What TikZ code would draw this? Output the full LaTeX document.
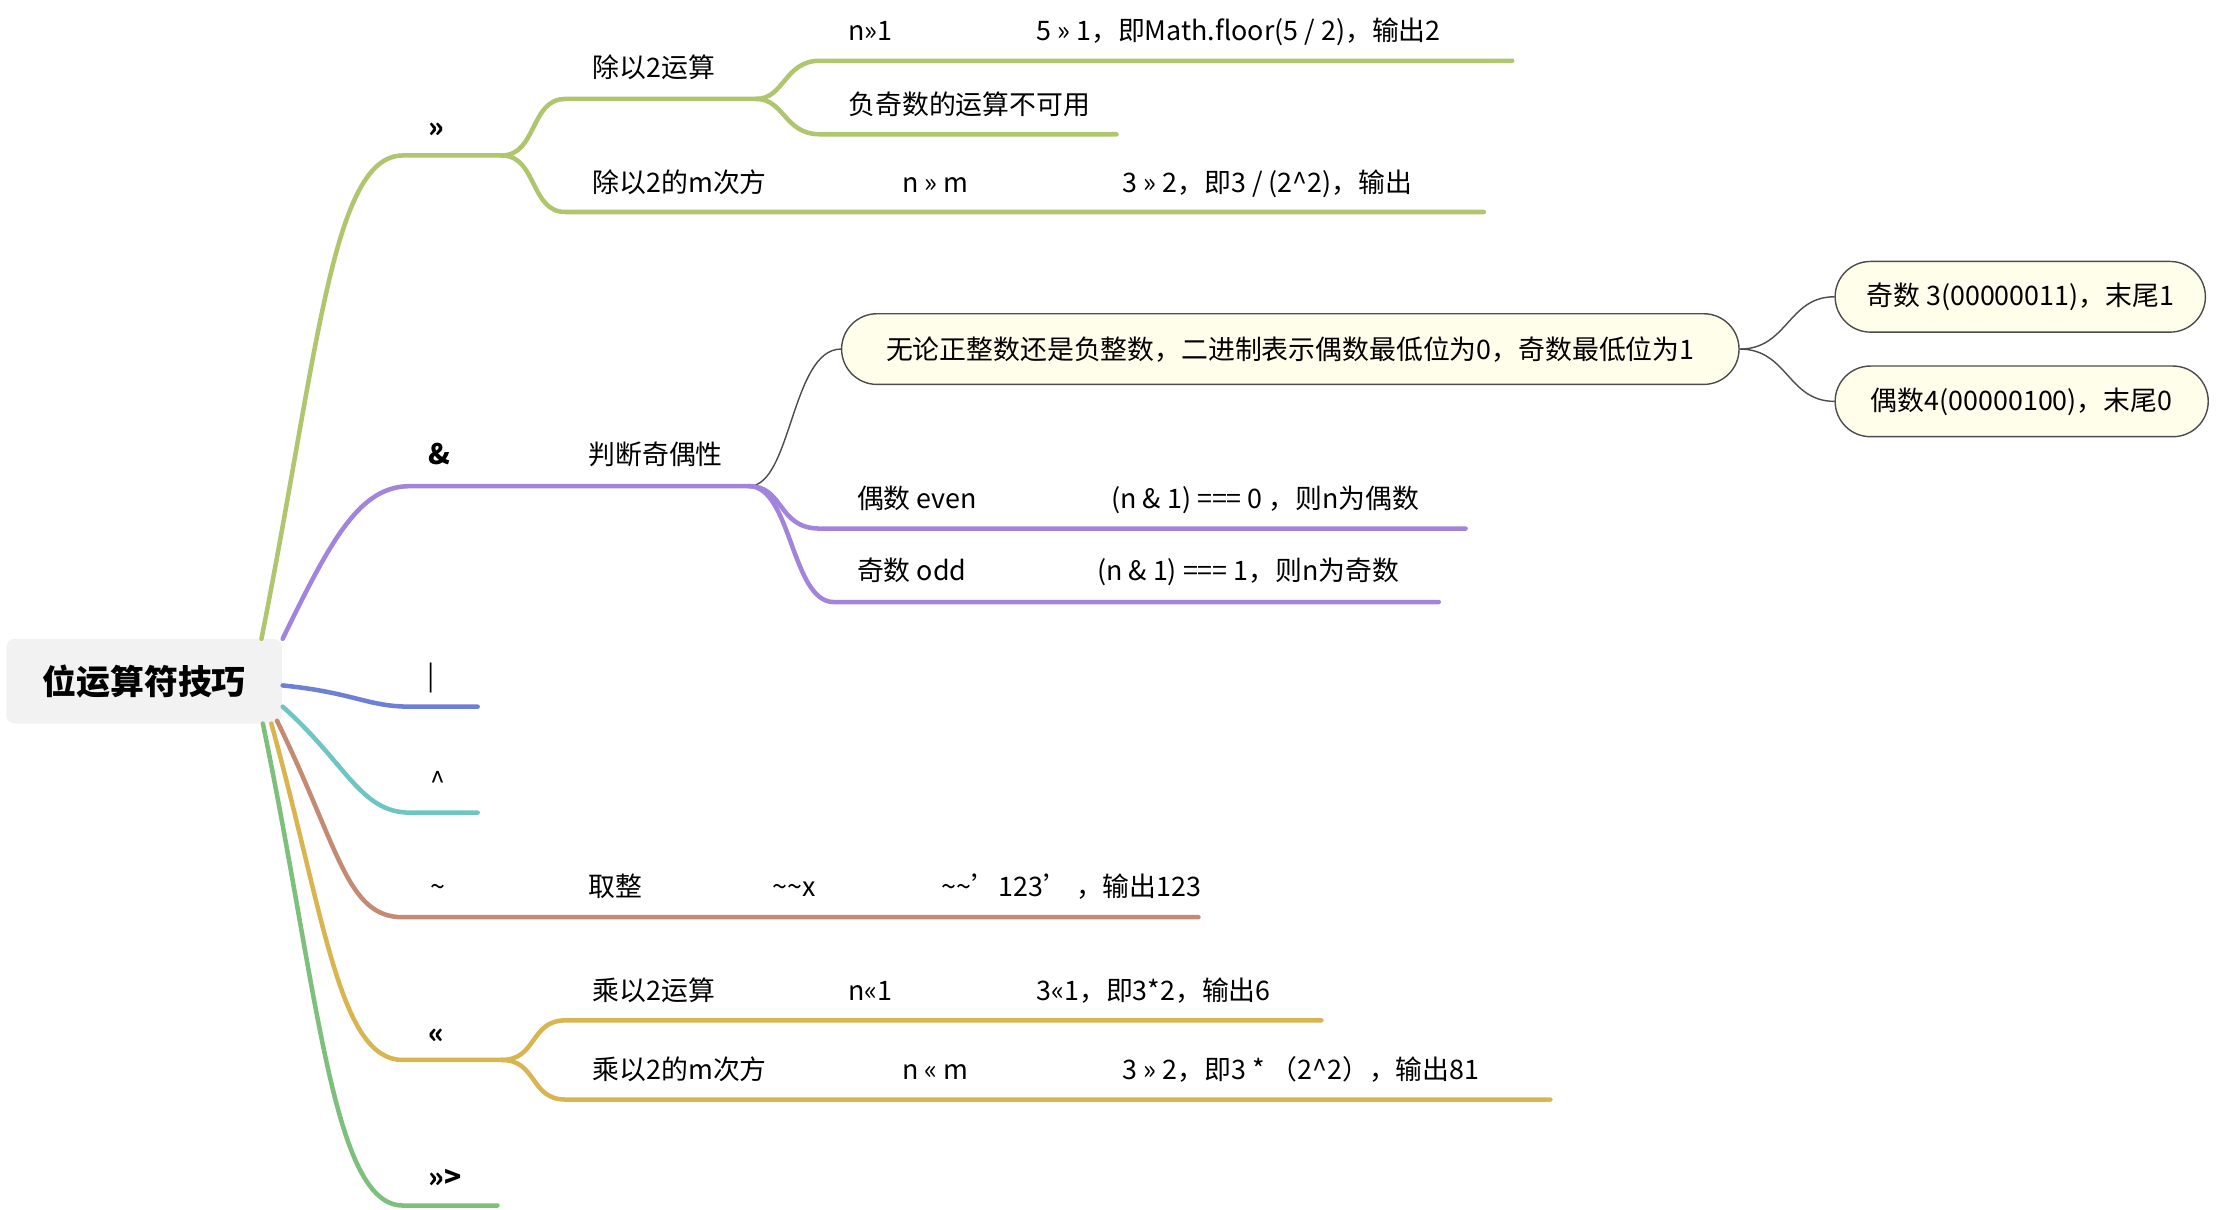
\documentclass[tikz,border=0pt]{standalone}
\usepackage{fontspec}
\setmainfont{Noto Sans CJK SC}
\begin{document}
\begin{tikzpicture}[x=0.5pt,y=-0.5pt,
  br/.style={line width=1.6pt,line cap=round},
  lab/.style={anchor=base west,inner sep=0,font=\fontsize{9.5pt}{11pt}\selectfont},
  bub/.style={draw=black!70,line width=0.5pt,fill=yellow!8!white,rounded corners=12.5pt,minimum height=25pt,anchor=west,font=\fontsize{9.5pt}{11pt}\selectfont,inner xsep=8pt}]
\definecolor{cg}{HTML}{AFC56E}\definecolor{cp}{HTML}{A384DC}\definecolor{cb}{HTML}{6E7FD6}
\definecolor{ct}{HTML}{6FC4C4}\definecolor{cr}{HTML}{C48B74}\definecolor{cy}{HTML}{D9B551}\definecolor{cv}{HTML}{7DC07C}
\useasboundingbox (0,0) rectangle (1568,856);
\node[fill=black!5,rounded corners=3pt,minimum width=97.5pt,minimum height=30pt,font=\fontsize{12pt}{14pt}\selectfont\bfseries] (root) at (102,482) {位运算符技巧};
% first level
\coordinate (r1) at (185,452);\coordinate (r2) at (200,452);\coordinate (r3) at (200,485);
\coordinate (r4) at (200,500);\coordinate (r5) at (196,510);\coordinate (r6) at (192,512);\coordinate (r7) at (186,512);
\draw[br,cg] (r1) .. controls (225,250) and (235,110) .. (285,110) -- (355,110);
\draw[br,cp] (r2) .. controls (235,380) and (255,344) .. (290,344) -- (530,344);
\draw[br,cb] (r3) .. controls (250,490) and (260,500) .. (290,500) -- (338,500);
\draw[br,ct] (r4) .. controls (245,540) and (255,575) .. (290,575) -- (338,575);
\draw[br,cr] (r5) .. controls (240,600) and (245,649) .. (285,649) -- (848,649);
\draw[br,cy] (r6) .. controls (230,650) and (240,750) .. (285,750) -- (355,750);
\draw[br,cv] (r7) .. controls (225,700) and (235,853) .. (285,853) -- (352,853);
\node[lab,font=\bfseries] (t1) at (303,97) {>>};
\node[lab,font=\bfseries] (t2) at (303,329) {\&};
\node[lab] (t3) at (302,485) {|};
\node[lab] (t4) at (304,560) {\^{}};
\node[lab] (t5) at (304,634) {\textasciitilde};
\node[lab,font=\bfseries] (t6) at (303,738) {<<};
\node[lab,font=\bfseries] (t7) at (303,840) {>>>};
% >> branch
\draw[br,cg] (355,110) .. controls (380,110) and (375,70) .. (400,70) -- (535,70);
\draw[br,cg] (355,110) .. controls (380,110) and (375,150) .. (400,150) -- (1050,150);
\draw[br,cg] (535,70) .. controls (555,70) and (555,43) .. (580,43) -- (1070,43);
\draw[br,cg] (535,70) .. controls (555,70) and (555,95) .. (580,95) -- (790,95);
\node[lab] (a1) at (419,55) {除以2运算};
\node[lab] (a2) at (600,29) {n>>1};
\node[lab] (a3) at (733,29) {5 >> 1，即Math.floor(5 / 2)，输出2};
\node[lab] (a4) at (600,81) {负奇数的运算不可用};
\node[lab] (a5) at (419,136) {除以2的m次方};
\node[lab] (a6) at (638,136) {n >> m};
\node[lab] (a7) at (794,136) {3 >> 2，即3 / (2\^{}2)，输出};
% & branch
\node[lab] (b1) at (416,329) {判断奇偶性};
\node[bub,minimum width=317.5pt] (q) at (595,247) {无论正整数还是负整数，二进制表示偶数最低位为0，奇数最低位为1};
\node[bub,minimum width=131pt] (q1) at (1298,210) {奇数 3(00000011)，末尾1};
\node[bub,minimum width=132pt] (q2) at (1298,284) {偶数4(00000100)，末尾0};
\draw[black!70,line width=0.5pt] (530,344) .. controls (560,344) and (560,247) .. (q.west);
\draw[black!70,line width=0.5pt] (q.east) .. controls (1265,247) and (1265,210) .. (q1.west);
\draw[black!70,line width=0.5pt] (q.east) .. controls (1265,247) and (1265,284) .. (q2.west);
\draw[br,cp] (530,344) .. controls (555,344) and (550,374) .. (580,374) -- (1037,374);
\draw[br,cp] (530,344) .. controls (560,344) and (560,426) .. (590,426) -- (1018,426);
\node[lab] (b2) at (606,360) {偶数 even};
\node[lab] (b3) at (786,360) {(n \& 1) === 0 ，则n为偶数};
\node[lab] (b4) at (606,411) {奇数 odd};
\node[lab] (b5) at (776,411) {(n \& 1) === 1，则n为奇数};
% ~ branch
\node[lab] (c1) at (416,634) {取整};
\node[lab] (c2) at (546,634) {\textasciitilde\textasciitilde x};
\node[lab] (c3) at (666,634) {\textasciitilde\textasciitilde'123' ，输出123};
% << branch
\draw[br,cy] (355,750) .. controls (380,750) and (375,722) .. (400,722) -- (935,722);
\draw[br,cy] (355,750) .. controls (380,750) and (375,778) .. (400,778) -- (1097,778);
\node[lab] (d1) at (419,708) {乘以2运算};
\node[lab] (d2) at (600,708) {n<<1};
\node[lab] (d3) at (733,708) {3<<1，即3*2，输出6};
\node[lab] (d4) at (419,764) {乘以2的m次方};
\node[lab] (d5) at (638,764) {n << m};
\node[lab] (d6) at (794,764) {3 >> 2，即3 * （2\^{}2），输出81};
\end{tikzpicture}
\end{document}
